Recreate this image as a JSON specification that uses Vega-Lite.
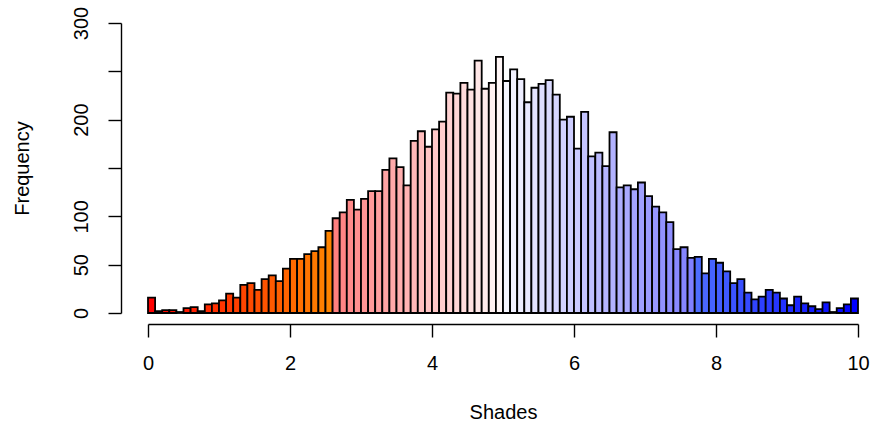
{
  "$schema": "https://vega.github.io/schema/vega-lite/v6.json",
  "autosize": "none",
  "width": 710,
  "height": 290,
  "padding": {"left": 148, "top": 23, "right": 14, "bottom": 116},
  "background": "white",
  "config": {
    "view": {"stroke": null},
    "axis": {
      "grid": false,
      "labelFlush": false,
      "labelOverlap": false,
      "domainColor": "black",
      "tickColor": "black",
      "domainWidth": 1.4,
      "tickWidth": 1.4,
      "tickSize": 13,
      "labelFont": "Liberation Sans",
      "titleFont": "Liberation Sans",
      "labelFontSize": 20,
      "titleFontSize": 20,
      "titleFontWeight": "normal",
      "labelColor": "black",
      "titleColor": "black"
    }
  },
  "data": {
    "values": [
      {"b0": 0.0, "b1": 0.1, "count": 16},
      {"b0": 0.1, "b1": 0.2, "count": 2},
      {"b0": 0.2, "b1": 0.3, "count": 3},
      {"b0": 0.3, "b1": 0.4, "count": 3},
      {"b0": 0.4, "b1": 0.5, "count": 1},
      {"b0": 0.5, "b1": 0.6, "count": 5},
      {"b0": 0.6, "b1": 0.7, "count": 6},
      {"b0": 0.7, "b1": 0.8, "count": 2},
      {"b0": 0.8, "b1": 0.9, "count": 9},
      {"b0": 0.9, "b1": 1.0, "count": 10},
      {"b0": 1.0, "b1": 1.1, "count": 13},
      {"b0": 1.1, "b1": 1.2, "count": 20},
      {"b0": 1.2, "b1": 1.3, "count": 16},
      {"b0": 1.3, "b1": 1.4, "count": 29},
      {"b0": 1.4, "b1": 1.5, "count": 31},
      {"b0": 1.5, "b1": 1.6, "count": 24},
      {"b0": 1.6, "b1": 1.7, "count": 35},
      {"b0": 1.7, "b1": 1.8, "count": 39},
      {"b0": 1.8, "b1": 1.9, "count": 33},
      {"b0": 1.9, "b1": 2.0, "count": 46},
      {"b0": 2.0, "b1": 2.1, "count": 56},
      {"b0": 2.1, "b1": 2.2, "count": 56},
      {"b0": 2.2, "b1": 2.3, "count": 61},
      {"b0": 2.3, "b1": 2.4, "count": 64},
      {"b0": 2.4, "b1": 2.5, "count": 68},
      {"b0": 2.5, "b1": 2.6, "count": 85},
      {"b0": 2.6, "b1": 2.7, "count": 98},
      {"b0": 2.7, "b1": 2.8, "count": 104},
      {"b0": 2.8, "b1": 2.9, "count": 117},
      {"b0": 2.9, "b1": 3.0, "count": 107},
      {"b0": 3.0, "b1": 3.1, "count": 118},
      {"b0": 3.1, "b1": 3.2, "count": 126},
      {"b0": 3.2, "b1": 3.3, "count": 126},
      {"b0": 3.3, "b1": 3.4, "count": 148},
      {"b0": 3.4, "b1": 3.5, "count": 160},
      {"b0": 3.5, "b1": 3.6, "count": 151},
      {"b0": 3.6, "b1": 3.7, "count": 132},
      {"b0": 3.7, "b1": 3.8, "count": 178},
      {"b0": 3.8, "b1": 3.9, "count": 188},
      {"b0": 3.9, "b1": 4.0, "count": 172},
      {"b0": 4.0, "b1": 4.1, "count": 190},
      {"b0": 4.1, "b1": 4.2, "count": 198},
      {"b0": 4.2, "b1": 4.3, "count": 228},
      {"b0": 4.3, "b1": 4.4, "count": 227},
      {"b0": 4.4, "b1": 4.5, "count": 238},
      {"b0": 4.5, "b1": 4.6, "count": 231},
      {"b0": 4.6, "b1": 4.7, "count": 261},
      {"b0": 4.7, "b1": 4.8, "count": 232},
      {"b0": 4.8, "b1": 4.9, "count": 238},
      {"b0": 4.9, "b1": 5.0, "count": 265},
      {"b0": 5.0, "b1": 5.1, "count": 240},
      {"b0": 5.1, "b1": 5.2, "count": 252},
      {"b0": 5.2, "b1": 5.3, "count": 242},
      {"b0": 5.3, "b1": 5.4, "count": 218},
      {"b0": 5.4, "b1": 5.5, "count": 233},
      {"b0": 5.5, "b1": 5.6, "count": 237},
      {"b0": 5.6, "b1": 5.7, "count": 241},
      {"b0": 5.7, "b1": 5.8, "count": 226},
      {"b0": 5.8, "b1": 5.9, "count": 200},
      {"b0": 5.9, "b1": 6.0, "count": 203},
      {"b0": 6.0, "b1": 6.1, "count": 170},
      {"b0": 6.1, "b1": 6.2, "count": 208},
      {"b0": 6.2, "b1": 6.3, "count": 162},
      {"b0": 6.3, "b1": 6.4, "count": 166},
      {"b0": 6.4, "b1": 6.5, "count": 152},
      {"b0": 6.5, "b1": 6.6, "count": 187},
      {"b0": 6.6, "b1": 6.7, "count": 130},
      {"b0": 6.7, "b1": 6.8, "count": 132},
      {"b0": 6.8, "b1": 6.9, "count": 128},
      {"b0": 6.9, "b1": 7.0, "count": 135},
      {"b0": 7.0, "b1": 7.1, "count": 121},
      {"b0": 7.1, "b1": 7.2, "count": 110},
      {"b0": 7.2, "b1": 7.3, "count": 104},
      {"b0": 7.3, "b1": 7.4, "count": 94},
      {"b0": 7.4, "b1": 7.5, "count": 66},
      {"b0": 7.5, "b1": 7.6, "count": 68},
      {"b0": 7.6, "b1": 7.7, "count": 57},
      {"b0": 7.7, "b1": 7.8, "count": 58},
      {"b0": 7.8, "b1": 7.9, "count": 41},
      {"b0": 7.9, "b1": 8.0, "count": 56},
      {"b0": 8.0, "b1": 8.1, "count": 52},
      {"b0": 8.1, "b1": 8.2, "count": 43},
      {"b0": 8.2, "b1": 8.3, "count": 31},
      {"b0": 8.3, "b1": 8.4, "count": 35},
      {"b0": 8.4, "b1": 8.5, "count": 21},
      {"b0": 8.5, "b1": 8.6, "count": 14},
      {"b0": 8.6, "b1": 8.7, "count": 17},
      {"b0": 8.7, "b1": 8.8, "count": 24},
      {"b0": 8.8, "b1": 8.9, "count": 21},
      {"b0": 8.9, "b1": 9.0, "count": 15},
      {"b0": 9.0, "b1": 9.1, "count": 8},
      {"b0": 9.1, "b1": 9.2, "count": 17},
      {"b0": 9.2, "b1": 9.3, "count": 10},
      {"b0": 9.3, "b1": 9.4, "count": 7},
      {"b0": 9.4, "b1": 9.5, "count": 4},
      {"b0": 9.5, "b1": 9.6, "count": 11},
      {"b0": 9.6, "b1": 9.7, "count": 1},
      {"b0": 9.7, "b1": 9.8, "count": 5},
      {"b0": 9.8, "b1": 9.9, "count": 9},
      {"b0": 9.9, "b1": 10.0, "count": 15}
    ]
  },
  "mark": {"type": "bar", "stroke": "black", "strokeWidth": 1.8, "cornerRadius": 0},
  "encoding": {
    "x": {
      "field": "b0",
      "type": "quantitative",
      "scale": {"domain": [0, 10], "nice": false, "zero": false},
      "axis": {
        "values": [0, 2, 4, 6, 8, 10],
        "format": "d",
        "offset": 11,
        "labelPadding": 16,
        "title": "Shades",
        "titlePadding": 29
      }
    },
    "x2": {"field": "b1"},
    "y": {
      "field": "count",
      "type": "quantitative",
      "scale": {"domain": [0, 300], "nice": false},
      "axis": {
        "values": [0, 50, 100, 150, 200, 250, 300],
        "labelExpr": "datum.value == 150 || datum.value == 250 ? '' : datum.label",
        "offset": 27,
        "labelAngle": -90,
        "labelAlign": "center",
        "labelBaseline": "alphabetic",
        "labelPadding": 21,
        "title": "Frequency",
        "titlePadding": 39
      }
    },
    "y2": {"datum": 0},
    "color": {
      "field": "b0",
      "type": "quantitative",
      "legend": null,
      "scale": {
        "type": "linear",
        "domain": [0, 2.5, 2.6, 4.9, 5.0, 7.6, 7.7, 9.9],
        "range": ["#FF0000", "#FF8400", "#FF8080", "#FFF6F6", "#F6F6FF", "#8080FF", "#4D6DFF", "#0000FF"],
        "interpolate": "rgb"
      }
    }
  }
}
